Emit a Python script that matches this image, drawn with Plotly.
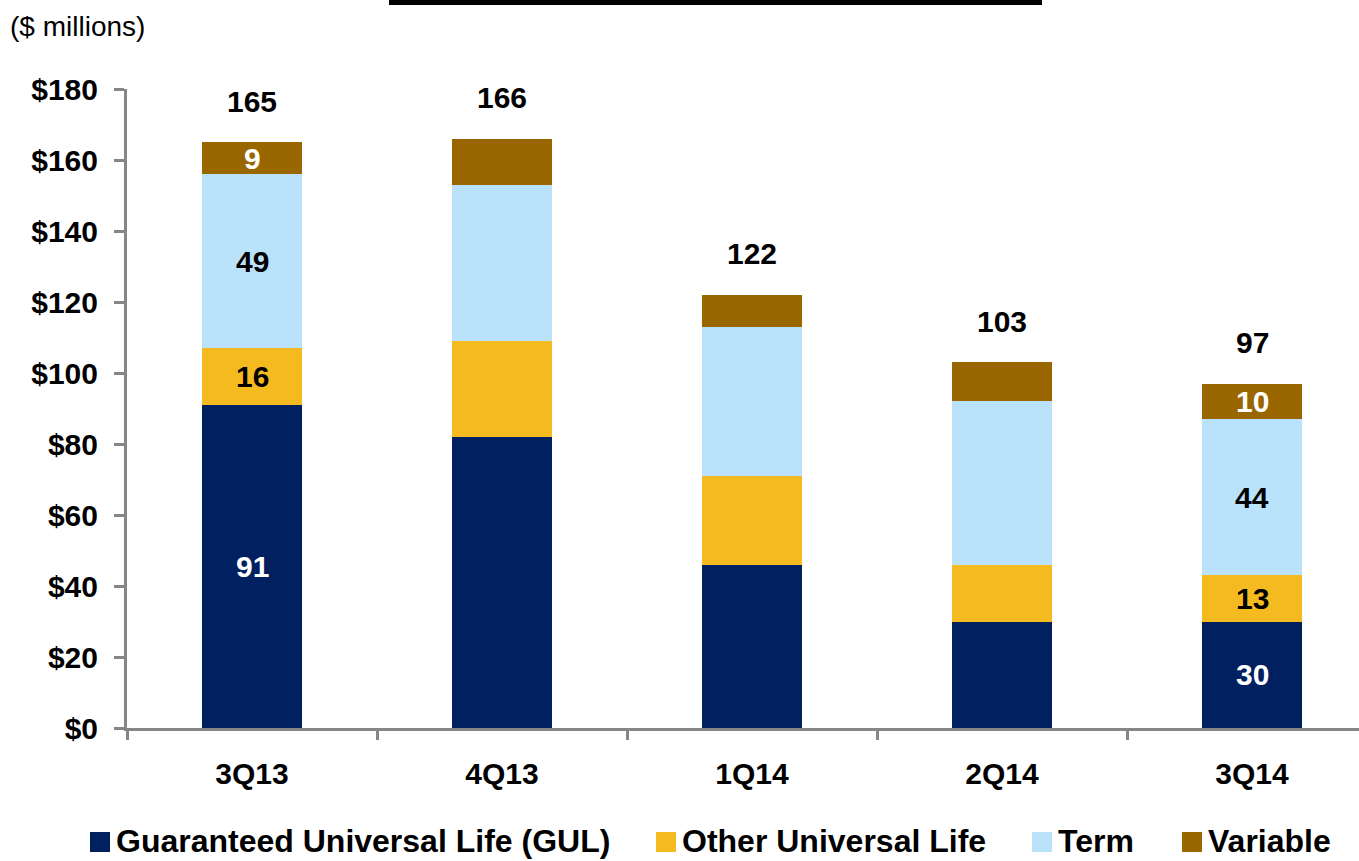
import plotly.graph_objects as go

categories = ["3Q13", "4Q13", "1Q14", "2Q14", "3Q14"]
series_names = ["Guaranteed Universal Life (GUL)", "Other Universal Life", "Term", "Variable"]
gul = [91, 82, 46, 30, 30]
other_ul = [16, 27, 25, 16, 13]
term = [49, 44, 42, 46, 44]
variable = [9, 13, 9, 11, 10]
totals = [165, 166, 122, 103, 97]
labelled_categories = ["3Q13", "3Q14"]
y_ticks = [0, 20, 40, 60, 80, 100, 120, 140, 160, 180]
y_tick_labels = ["$" + str(v) for v in y_ticks]

series_values = [gul, other_ul, term, variable]
colors = ["#012060", "#F4BA1F", "#BAE2FB", "#996600"]
label_colors = ["white", "black", "black", "white"]

FONT = "Liberation Sans, Arial, sans-serif"
W, H = 1359, 861
ML, MR, MT, MB = 127, 0, 89, 133
plot_w = W - ML - MR
plot_h = H - MT - MB
cat_px = 250.0

fig = go.Figure()
for name, vals, col in zip(series_names, series_values, colors):
    fig.add_trace(go.Bar(
        x=categories, y=vals, name=name, marker=dict(color=col, line=dict(width=0)),
        width=0.4, showlegend=False, hoverinfo="x+y+name",
    ))

annotations = []
# segment labels
for i, cat in enumerate(categories):
    if cat not in labelled_categories:
        continue
    base = 0
    for s, vals in enumerate(series_values):
        v = vals[i]
        annotations.append(dict(
            x=cat, y=base + v / 2, xref="x", yref="y", text=str(v), showarrow=False,
            font=dict(family=FONT, size=30, color=label_colors[s], weight="bold"),
            xanchor="center", yanchor="middle",
        ))
        base += v
# totals
for cat, t in zip(categories, totals):
    annotations.append(dict(
        x=cat, y=t, xref="x", yref="y", text=str(t), showarrow=False,
        font=dict(family=FONT, size=30, color="black", weight="bold"),
        xanchor="center", yanchor="middle", yshift=41,
    ))

def px_x(p):
    return (p - ML) / plot_w

def px_y(p):
    return (H - MB - p) / plot_h

# units label
annotations.append(dict(
    x=px_x(8), y=px_y(27), xref="paper", yref="paper", text="($ millions)",
    showarrow=False, xanchor="left", yanchor="middle",
    font=dict(family=FONT, size=28, color="black"),
))

# manual legend
legend_sq = [90, 656, 1032, 1182]
shapes = [dict(type="rect", xref="paper", yref="paper",
               x0=px_x(389), x1=px_x(1042), y0=px_y(5), y1=px_y(0),
               fillcolor="black", line=dict(width=0))]
for name, col, sx in zip(series_names, colors, legend_sq):
    shapes.append(dict(type="rect", xref="paper", yref="paper",
                       x0=px_x(sx), x1=px_x(sx + 20), y0=px_y(852), y1=px_y(832),
                       fillcolor=col, line=dict(width=0)))
    annotations.append(dict(
        x=px_x(sx + 24), y=px_y(841), xref="paper", yref="paper", text=name,
        showarrow=False, xanchor="left", yanchor="middle",
        font=dict(family=FONT, size=32, color="black", weight="bold"),
    ))

axis_col = "#868686"
fig.update_layout(
    barmode="stack",
    width=W, height=H,
    margin=dict(l=ML, r=MR, t=MT, b=MB, pad=0),
    plot_bgcolor="white", paper_bgcolor="white",
    annotations=annotations, shapes=shapes,
    showlegend=False,
    xaxis=dict(
        type="category", range=[-0.5, -0.5 + plot_w / cat_px],
        showline=True, linecolor=axis_col, linewidth=3,
        ticks="outside", tickson="boundaries", ticklen=9, tickwidth=3, tickcolor=axis_col,
        tickfont=dict(family=FONT, size=30, color="black", weight="bold"),
        ticklabelstandoff=17, showgrid=False, zeroline=False,
    ),
    yaxis=dict(
        range=[0, 180], tickmode="array", tickvals=y_ticks, ticktext=y_tick_labels,
        showline=True, linecolor=axis_col, linewidth=3,
        ticks="outside", ticklen=10, tickwidth=3, tickcolor=axis_col,
        tickfont=dict(family=FONT, size=30, color="black", weight="bold"),
        ticklabelstandoff=10, showgrid=False, zeroline=False,
    ),
)

fig.write_html(
    "out.html",
    config={"displayModeBar": False},
    post_script="document.body.style.margin='0px';document.body.style.overflow='hidden';",
)
